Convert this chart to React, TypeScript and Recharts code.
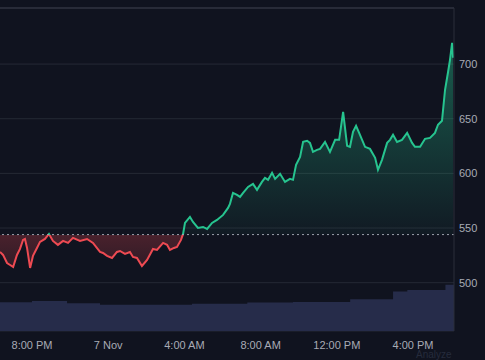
import { ComposedChart, Area, XAxis, YAxis, CartesianGrid, ReferenceLine } from "recharts";

// hours counted from 8:00 PM (6 Nov)
const hours = [
  -1.68, -1.52, -1.31, -1.15, -0.99, -0.79, -0.63, -0.47, -0.37, -0.26, -0.1, 0.05, 0.26, 0.42, 0.68, 0.89,
  1.1, 1.36, 1.63, 1.89, 2.15, 2.52, 2.89, 3.2, 3.57, 3.73, 3.94, 4.2, 4.46, 4.62, 4.88, 5.14, 5.3, 5.51,
  5.77, 6.04, 6.35, 6.56, 6.88, 7.09, 7.24, 7.45, 7.61, 7.82, 7.93, 8.03, 8.29, 8.45, 8.71, 8.98, 9.19,
  9.45, 9.71, 10.03, 10.29, 10.39, 10.55, 10.76, 10.92, 11.08, 11.34, 11.6, 11.81, 12.07, 12.23, 12.39,
  12.6, 12.76, 13.02, 13.28, 13.54, 13.7, 13.86, 14.07, 14.23, 14.44, 14.59, 14.75, 14.96, 15.12, 15.38,
  15.64, 15.91, 16.12, 16.33, 16.54, 16.69, 16.85, 17.01, 17.17, 17.48, 17.74, 18.01, 18.16, 18.37, 18.64,
  18.79, 18.95, 19.16, 19.42, 19.69, 19.95, 20.1, 20.37, 20.63, 20.89, 21.15, 21.31, 21.52, 21.68, 21.84,
  21.94, 22.05, 22.1,
];
const prices = [
  528.1, 525.4, 518.0, 516.2, 514.4, 525.4, 530.9, 539.1, 540.0, 531.8, 513.5, 524.5, 531.8, 537.3, 540.0, 544.6,
  538.2, 534.6, 538.2, 536.4, 541.0, 538.2, 540.0, 536.4, 528.1, 527.2, 524.5, 522.6, 528.1, 529.0, 526.3, 528.1, 523.5, 522.6,
  515.3, 520.8, 530.9, 530.0, 536.4, 534.6, 530.0, 531.8, 532.7, 539.1, 544.6, 554.7, 560.2, 555.6, 550.1, 551.0, 549.2,
  554.7, 557.4, 562.0, 568.4, 572.1, 582.2, 580.3, 578.5, 582.2, 587.6, 590.4, 584.9, 592.2, 595.9, 594.1,
  600.5, 595.0, 599.6, 592.2, 595.0, 594.1, 607.8, 615.1, 628.8, 629.8, 627.9, 619.7, 621.5, 622.4, 628.8,
  619.7, 630.7, 630.7, 656.3, 625.2, 624.3, 638.0, 643.5, 637.1, 624.3, 622.4, 614.2, 603.3, 612.4, 627.9,
  630.7, 635.3, 628.8, 630.7, 637.1, 627.9, 624.3, 624.3, 631.6, 632.5, 637.1, 644.5, 648.1, 676.5, 693.0,
  703.9, 719.5, 705.8,
];

const volHours = [-1.68, 0, 1.84, 3.57, 8.4, 11.3, 13.7, 16.7, 18.95, 19.7, 21.7, 22.15];
const volumes = [89, 93, 86, 81, 84, 88, 90, 98, 122, 127, 143, 143];

const tickHours = [0, 4, 8, 12, 16, 20];
const tickLabels = ["8:00 PM", "7 Nov", "4:00 AM", "8:00 AM", "12:00 PM", "4:00 PM"];
const priceTicks = [500, 550, 600, 650, 700];
const baseline = 544;

const GREEN = "#26c48f";
const RED = "#ee4a52";

export default function App() {
  const priceData = hours.map((h, i) => ({ t: h, price: prices[i] }));
  const volData = volHours.map((h, i) => ({ t: h, vol: volumes[i] }));

  const maxP = Math.max(...prices);
  const minP = Math.min(...prices);
  const off = (maxP - baseline) / (maxP - minP);

  const tickStyle = { fill: "#a8abb5", fontSize: 11, fontFamily: "'Liberation Sans', Arial, sans-serif" };

  return (
    <div
      style={{
        position: "absolute",
        left: 0,
        top: 0,
        width: 485,
        height: 360,
        overflow: "hidden",
        background: "#10131f",
      }}
    >
      <ComposedChart width={485} height={360} margin={{ top: 8, right: 0, bottom: 0, left: 0 }}>
        <defs>
          <linearGradient id="fillSplit" x1="0" y1="0" x2="0" y2="1">
            <stop offset={0} stopColor={GREEN} stopOpacity={0.42} />
            <stop offset={off} stopColor={GREEN} stopOpacity={0.04} />
            <stop offset={off} stopColor={RED} stopOpacity={0.26} />
            <stop offset={1} stopColor={RED} stopOpacity={0.14} />
          </linearGradient>
          <linearGradient id="strokeSplit" x1="0" y1="0" x2="0" y2="1">
            <stop offset={0} stopColor={GREEN} />
            <stop offset={off} stopColor={GREEN} />
            <stop offset={off} stopColor={RED} />
            <stop offset={1} stopColor={RED} />
          </linearGradient>
        </defs>
        <CartesianGrid vertical={false} stroke="#252935" yAxisId="price" />
        <XAxis
          dataKey="t"
          type="number"
          domain={[-1.68, 22.15]}
          ticks={tickHours}
          tickFormatter={(v) => tickLabels[tickHours.indexOf(v)]}
          height={29}
          axisLine={false}
          tickLine={false}
          tickSize={0}
          tickMargin={10}
          tick={tickStyle}
          allowDataOverflow
        />
        <YAxis
          yAxisId="price"
          orientation="right"
          domain={[455.8, 751.3]}
          ticks={priceTicks}
          width={31}
          axisLine={{ stroke: "#2a2e3b" }}
          tickLine={false}
          tickSize={0}
          tickMargin={5}
          tick={tickStyle}
          allowDataOverflow
        />
        <YAxis yAxisId="vol" hide domain={[0, 1000]} />
        <Area
          yAxisId="vol"
          data={volData}
          dataKey="vol"
          type="stepAfter"
          stroke="none"
          fill="#262c4a"
          fillOpacity={1}
          isAnimationActive={false}
        />
        <ReferenceLine yAxisId="price" y={751.3} stroke="#363a48" />
        <Area
          yAxisId="price"
          data={priceData}
          dataKey="price"
          type="linear"
          baseValue={baseline}
          stroke="url(#strokeSplit)"
          strokeWidth={2}
          fill="url(#fillSplit)"
          fillOpacity={1}
          dot={false}
          activeDot={false}
          isAnimationActive={false}
        />
        <ReferenceLine yAxisId="price" y={baseline} stroke="#9da2ad" strokeDasharray="2 3" />
      </ComposedChart>
      <div
        style={{
          position: "absolute",
          left: 416,
          top: 350,
          fontSize: 10,
          lineHeight: "10px",
          color: "#252b3c",
          fontFamily: "'Liberation Sans', Arial, sans-serif",
        }}
      >
        Analyze
      </div>
    </div>
  );
}
